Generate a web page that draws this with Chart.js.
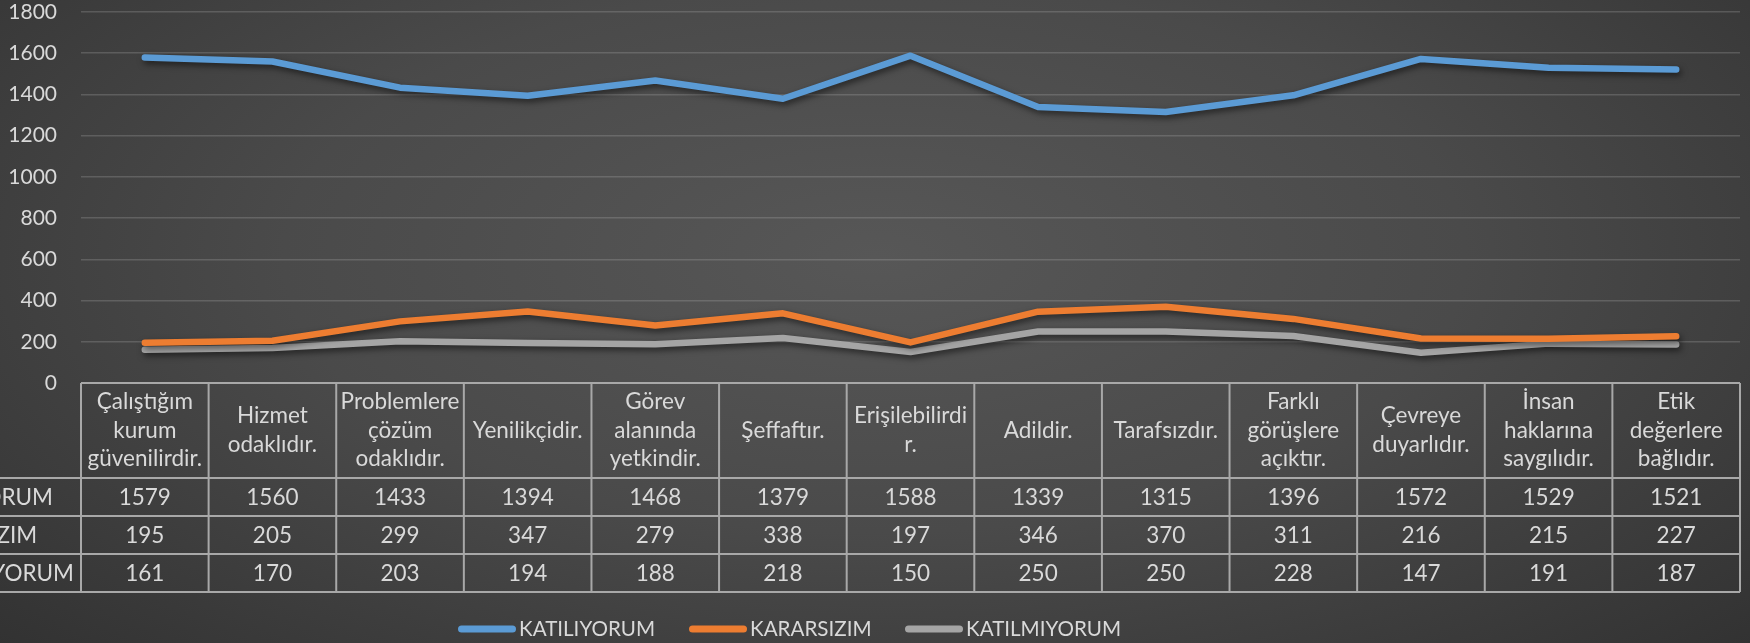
<!DOCTYPE html>
<html>
<head>
<meta charset="utf-8">
<script src="https://cdn.jsdelivr.net/npm/chart.js@4/dist/chart.umd.min.js"></script>
<style>
  html, body { margin: 0; padding: 0; }
  body {
    width: 1750px; height: 643px; overflow: hidden;
    background: radial-gradient(ellipse 75% 95% at 50% 40%, #575757 0%, #4a4a4a 45%, #2e2e2e 100%);
  }
  #wrap { position: relative; width: 1750px; height: 643px; }
</style>
</head>
<body>
<div id="wrap"><canvas id="chart" width="1750" height="643"></canvas></div>
<script>
const categories = [
  ['Çalıştığım', 'kurum', 'güvenilirdir.'],
  ['Hizmet', 'odaklıdır.'],
  ['Problemlere', 'çözüm', 'odaklıdır.'],
  ['Yenilikçidir.'],
  ['Görev', 'alanında', 'yetkindir.'],
  ['Şeffaftır.'],
  ['Erişilebilirdi', 'r.'],
  ['Adildir.'],
  ['Tarafsızdır.'],
  ['Farklı', 'görüşlere', 'açıktır.'],
  ['Çevreye', 'duyarlıdır.'],
  ['İnsan', 'haklarına', 'saygılıdır.'],
  ['Etik', 'değerlere', 'bağlıdır.']
];
const seriesNames = ['KATILIYORUM', 'KARARSIZIM', 'KATILMIYORUM'];
const katiliyorum = [1579, 1560, 1433, 1394, 1468, 1379, 1588, 1339, 1315, 1396, 1572, 1529, 1521];
const kararsizim = [195, 205, 299, 347, 279, 338, 197, 346, 370, 311, 216, 215, 227];
const katilmiyorum = [161, 170, 203, 194, 188, 218, 150, 250, 250, 228, 147, 191, 187];
const seriesColors = ['#5B9BD5', '#ED7D31', '#A5A5A5'];
const yMin = 0, yMax = 1800, yStep = 200;

const FONT = 'Lato, "Open Sans", sans-serif';
const TEXT = '#D9D9D9';
const BORDER = '#A8A8A8';

// drop shadow under the lines
const shadowPlugin = {
  id: 'lineShadow',
  beforeDatasetDraw(chart) {
    const ctx = chart.ctx;
    ctx.save();
    ctx.shadowColor = 'rgba(0,0,0,0.55)';
    ctx.shadowBlur = 6;
    ctx.shadowOffsetX = 2;
    ctx.shadowOffsetY = 3;
  },
  afterDatasetDraw(chart) {
    chart.ctx.restore();
  }
};

// data table under the plot + legend
const tablePlugin = {
  id: 'dataTable',
  afterDraw(chart) {
    const ctx = chart.ctx;
    const x = chart.scales.x;
    const area = chart.chartArea;
    const n = categories.length;
    const step = (area.right - area.left) / n;
    const top = area.bottom;
    const rows = [top, 478, 516, 554, 592];
    const rowData = chart.data.datasets.map(d => d.data);

    ctx.save();
    ctx.strokeStyle = BORDER;
    ctx.lineWidth = 2;
    ctx.beginPath();
    ctx.moveTo(area.left, rows[0]);
    ctx.lineTo(area.right, rows[0]);
    for (let r = 1; r < rows.length; r++) {
      ctx.moveTo(0, rows[r]);
      ctx.lineTo(area.right, rows[r]);
    }
    for (let i = 0; i <= n; i++) {
      const px = i < n ? x.getPixelForValue(i) - step / 2 : x.getPixelForValue(n - 1) + step / 2;
      ctx.moveTo(px, rows[0]);
      ctx.lineTo(px, rows[4]);
    }
    ctx.stroke();

    ctx.fillStyle = TEXT;
    ctx.textAlign = 'center';
    ctx.textBaseline = 'middle';
    ctx.font = '22.5px ' + FONT;
    const lh = 28.7;
    const hMid = (rows[0] + rows[1]) / 2;
    categories.forEach((lines, i) => {
      const cx = x.getPixelForValue(i);
      const y0 = hMid - (lines.length - 1) * lh / 2;
      lines.forEach((t, k) => ctx.fillText(t, cx, y0 + k * lh));
      rowData.forEach((vals, r) => {
        ctx.fillText(String(vals[i]), cx, (rows[r + 1] + rows[r + 2]) / 2 + 1);
      });
    });

    // row headers (cut off on the left like the original)
    ctx.textAlign = 'left';
    const start = 53 - ctx.measureText(seriesNames[0]).width;
    seriesNames.forEach((s, r) => {
      ctx.fillText(s, start, (rows[r + 1] + rows[r + 2]) / 2 + 1);
    });

    // legend
    const ly = 629;
    const legendX = [458, 689, 905];
    ctx.font = '21.5px ' + FONT;
    const squeeze = 136 / ctx.measureText(seriesNames[0]).width;
    ctx.lineCap = 'round';
    ctx.lineWidth = 7;
    seriesNames.forEach((s, i) => {
      ctx.strokeStyle = seriesColors[i];
      ctx.beginPath();
      ctx.moveTo(legendX[i] + 3.5, ly);
      ctx.lineTo(legendX[i] + 54.5, ly);
      ctx.stroke();
      ctx.save();
      ctx.translate(legendX[i] + 61, ly);
      ctx.scale(squeeze, 1);
      ctx.fillStyle = TEXT;
      ctx.fillText(s, 0, 0);
      ctx.restore();
    });
    ctx.restore();
  }
};

new Chart(document.getElementById('chart'), {
  type: 'line',
  data: {
    labels: categories,
    datasets: [katiliyorum, kararsizim, katilmiyorum].map((d, i) => ({
      label: seriesNames[i],
      data: d,
      borderColor: seriesColors[i],
      backgroundColor: seriesColors[i],
      borderWidth: 6.5,
      borderCapStyle: 'round',
      borderJoinStyle: 'round',
      pointRadius: 0,
      tension: 0
    }))
  },
  options: {
    responsive: false,
    animation: false,
    devicePixelRatio: 1,
    layout: { padding: { top: 12, bottom: 252, right: 10, left: 0 } },
    plugins: { legend: { display: false }, tooltip: { enabled: false } },
    scales: {
      x: {
        type: 'category',
        offset: true,
        grid: { display: false },
        border: { display: false },
        ticks: { display: false }
      },
      y: {
        min: yMin, max: yMax,
        afterFit(s) { s.width = 81; s.paddingTop = 0; s.paddingBottom = 0; },
        ticks: {
          stepSize: yStep, color: TEXT, padding: 24,
          font: { family: FONT, size: 21 },
          callback: v => String(v)
        },
        grid: { color: 'rgba(200,200,200,0.22)', lineWidth: 1.5, drawTicks: false },
        border: { display: false }
      }
    }
  },
  plugins: [shadowPlugin, tablePlugin]
});
</script>
</body>
</html>
